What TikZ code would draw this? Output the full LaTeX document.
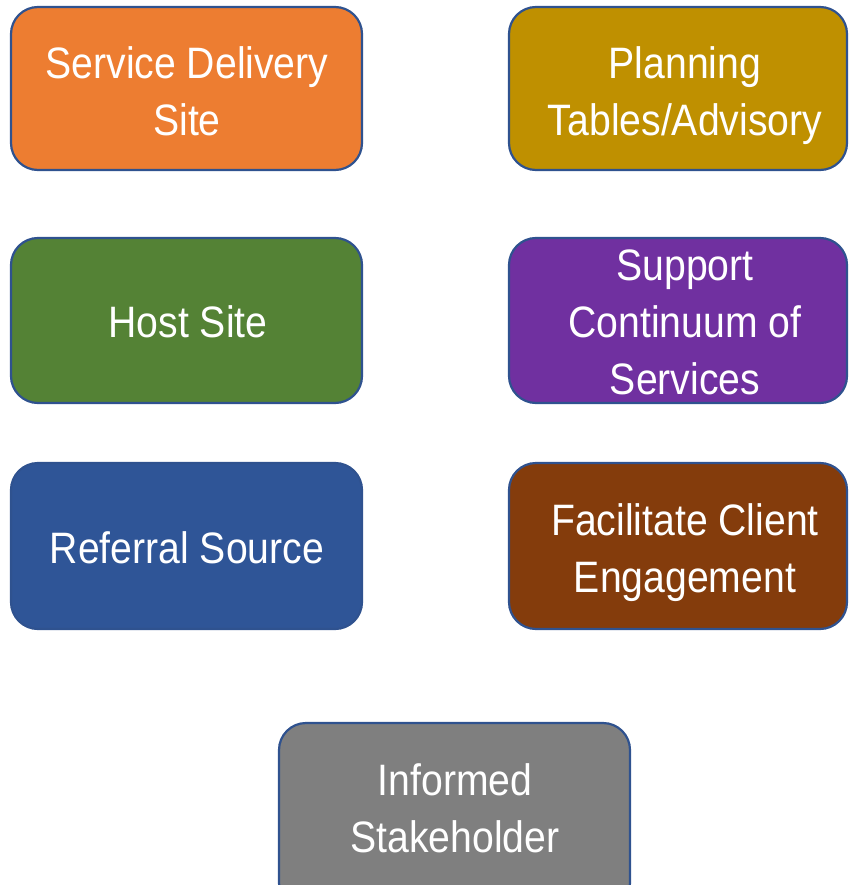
\documentclass[tikz,border=0pt]{standalone}
\usepackage{fontspec}
\setmainfont[FakeStretch=0.89]{Liberation Sans}
\definecolor{cOrange}{HTML}{ED7D31}
\definecolor{cGold}{HTML}{BF9000}
\definecolor{cGreen}{HTML}{548235}
\definecolor{cPurple}{HTML}{7030A0}
\definecolor{cBlue}{HTML}{2F5597}
\definecolor{cBrown}{HTML}{843C0C}
\definecolor{cGray}{HTML}{7F7F7F}
\definecolor{cEdge}{HTML}{2F528F}
\begin{document}
\begin{tikzpicture}[x=1pt,y=-1pt,
  boxstyle/.style={draw=cEdge,line width=2.2pt,rounded corners=27pt},
  lbl/.style={text=white,font=\fontsize{44}{57}\selectfont,align=center,inner sep=0pt}]
\useasboundingbox (0,0) rectangle (848,885);
\clip (0,0) rectangle (848,885);
\draw[boxstyle,fill=cOrange] (11,7) rectangle (362,170);
\draw[boxstyle,fill=cGold] (509,7) rectangle (847,170);
\draw[boxstyle,fill=cGreen] (11,238) rectangle (362,403);
\draw[boxstyle,fill=cPurple] (509,238) rectangle (847,403);
\draw[boxstyle,fill=cBlue] (11,463) rectangle (362,629);
\draw[boxstyle,fill=cBrown] (509,463) rectangle (847,629);
\draw[boxstyle,fill=cGray] (279,723) rectangle (630,910);
\node[lbl] (t1) at (187,91) {Service Delivery\\Site};
\node[lbl] (t2) at (685,96) {Planning\\Tables/Advisory};
\node[lbl] (t3) at (188,322) {Host Site};
\node[lbl] (t4) at (685,322) {Support\\Continuum of\\Services};
\node[lbl] (t5) at (187,548) {Referral Source};
\node[lbl] (t6) at (685,553) {Facilitate Client\\Engagement};
\node[lbl] (t7) at (455,808) {Informed\\Stakeholder};
\end{tikzpicture}
\end{document}
